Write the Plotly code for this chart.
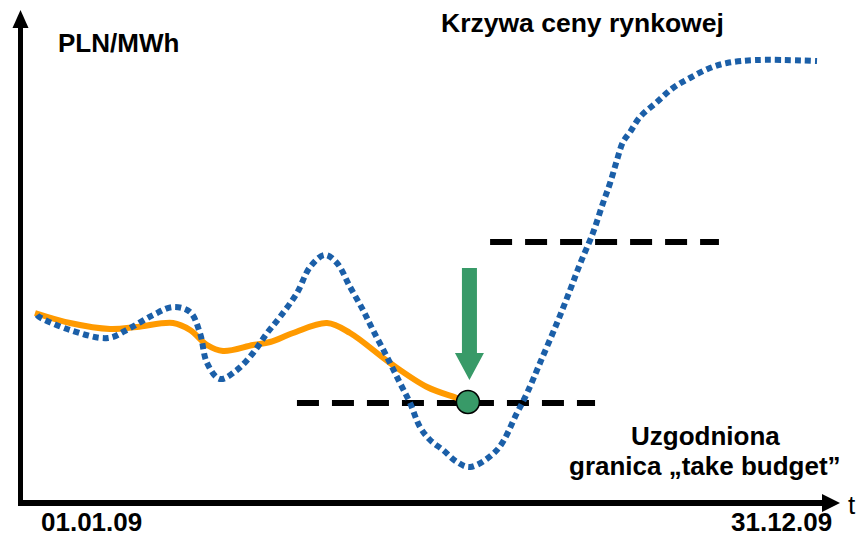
import plotly.graph_objects as go

# ---- data (x: day of year 2009, y: price in PLN/MWh, schematic) ----
market_days = [1, 2, 16.3, 33.9, 44.2, 54.9, 64.2, 72.1, 76.7, 80.0, 86.0, 93.9, 101.4,
               107.9, 113.9, 121.8, 127.9, 134.8, 140.4, 146.5, 152.5, 157.1, 163.7,
               169.7, 174.4, 179.0, 183.7, 189.7, 196.2, 202.3, 214.8, 224.1, 228.8,
               234.8, 242.7, 248.8, 253.4, 259.4, 264.1, 267.4, 270.6, 273.4, 276.7,
               281.3, 289.2, 296.6, 304.5, 313.8, 321.7, 335.7, 363.6]
market_price = [92.5, 91.5, 85, 81, 86, 92.5, 96.5, 94, 83.5, 68.5, 60.5, 65, 73.5,
                83.5, 91.5, 103.5, 116.5, 122.5, 118.5, 106.5, 95, 85, 71.5,
                58.5, 48.5, 36.5, 30, 25, 19, 16.5, 25, 43.5, 53.5,
                68.5, 88.5, 105, 118, 133.5, 148.5, 158.5, 170, 179, 184,
                191.5, 199, 206, 211, 216, 218.5, 220, 219.5]

hedge_days = [0, 16.3, 34.9, 47.4, 64.2, 72.1, 80.0, 87.4, 101.4, 109.3, 120.0,
              135.8, 146.5, 165.1, 182.3, 196.2, 201.3]
hedge_price = [93.5, 88.5, 85.5, 86.5, 88.5, 85, 77.5, 74.5, 77.5, 79, 83.5,
               88.5, 83.5, 68.5, 56.5, 51, 49]

take_budget_level = 48.5
take_budget_days = [121.8, 260.4]
upper_level = 129
upper_days = [211.6, 318.0]

trigger_day = 201.3
trigger_price = 49
arrow_day = 202
arrow_top = 116
arrow_tip = 60

W, H = 858, 539
X_RANGE = [-16.27, 382.66]
Y_RANGE = [-19.5, 250]

BLUE = "#1b5fa8"
ORANGE = "#ff9a00"
GREEN = "#389a68"
FONT = "Liberation Sans, Arial, sans-serif"


def dx(px):
    return px * (X_RANGE[1] - X_RANGE[0]) / W


def dy(px):
    return px * (Y_RANGE[1] - Y_RANGE[0]) / H


def px_x(p):
    return p / W


def px_y(p):
    return 1 - p / H


fig = go.Figure()

# dashed levels
fig.add_trace(go.Scatter(x=take_budget_days, y=[take_budget_level] * 2, mode="lines",
                         line=dict(color="black", width=6, dash="22px,13px"),
                         hoverinfo="skip"))
fig.add_trace(go.Scatter(x=upper_days, y=[upper_level] * 2, mode="lines",
                         line=dict(color="black", width=6, dash="22px,13px"),
                         hoverinfo="skip"))
# orange hedge curve
fig.add_trace(go.Scatter(x=hedge_days, y=hedge_price, mode="lines",
                         line=dict(color=ORANGE, width=6, shape="spline", smoothing=1.0),
                         hoverinfo="skip"))
# blue market curve
fig.add_trace(go.Scatter(x=market_days, y=market_price, mode="lines",
                         line=dict(color=BLUE, width=6, dash="6px,4px", shape="spline",
                                   smoothing=1.0),
                         hoverinfo="skip"))
# green marker
fig.add_trace(go.Scatter(x=[trigger_day], y=[trigger_price], mode="markers",
                         marker=dict(size=23, color=GREEN, line=dict(color="black", width=1.5)),
                         hoverinfo="skip"))

# green arrow (built from its data anchor)
hs = dx(7.5)
hh = dx(14.5)
head_base = arrow_tip + dy(27)
arrow_path = (f"M {arrow_day - hs},{arrow_top} L {arrow_day + hs},{arrow_top} "
              f"L {arrow_day + hs},{head_base} L {arrow_day + hh},{head_base} "
              f"L {arrow_day},{arrow_tip} L {arrow_day - hh},{head_base} "
              f"L {arrow_day - hs},{head_base} Z")
shapes = [dict(type="path", xref="x", yref="y", path=arrow_path,
               fillcolor=GREEN, line=dict(width=0))]

# axes with arrowheads (paper coords)
shapes.append(dict(type="line", xref="paper", yref="paper",
                   x0=px_x(20.5), x1=px_x(20.5), y0=px_y(506), y1=px_y(26),
                   line=dict(color="black", width=5)))
shapes.append(dict(type="line", xref="paper", yref="paper",
                   x0=px_x(18), x1=px_x(824), y0=px_y(503), y1=px_y(503),
                   line=dict(color="black", width=6)))
shapes.append(dict(type="path", xref="paper", yref="paper",
                   path=f"M {px_x(12.5)},{px_y(28)} L {px_x(28.5)},{px_y(28)} L {px_x(20.5)},{px_y(10)} Z",
                   fillcolor="black", line=dict(width=0)))
shapes.append(dict(type="path", xref="paper", yref="paper",
                   path=f"M {px_x(822)},{px_y(494)} L {px_x(822)},{px_y(512)} L {px_x(840)},{px_y(503)} Z",
                   fillcolor="black", line=dict(width=0)))

annotations = []


def label(text, x, y, size=26, bold=True, yanchor="middle"):
    annotations.append(dict(text=f"<b>{text}</b>" if bold else text,
                            x=px_x(x), y=px_y(y), xref="paper", yref="paper",
                            xanchor="center", yanchor=yanchor, showarrow=False,
                            font=dict(family=FONT, size=size, color="black")))


label("PLN/MWh", 118.5, 43)
label("Krzywa ceny rynkowej", 582.5, 23, size=26.5)
label("Uzgodniona", 705, 436)
label("granica „take budget”", 705, 466)
label("01.01.09", 91.5, 539, yanchor="bottom")
label("31.12.09", 781.5, 539, yanchor="bottom")
label("t", 852, 505, bold=False)

fig.update_layout(
    width=W, height=H,
    margin=dict(l=0, r=0, t=0, b=0),
    paper_bgcolor="white", plot_bgcolor="white",
    showlegend=False, hovermode=False,
    xaxis=dict(range=X_RANGE, visible=False, fixedrange=True),
    yaxis=dict(range=Y_RANGE, visible=False, fixedrange=True),
    shapes=shapes, annotations=annotations,
)

fig.write_html("out.html", config={"displayModeBar": False},
               post_script="document.body.style.margin='0';document.body.style.padding='0';"
                           "document.body.style.overflow='hidden';")
